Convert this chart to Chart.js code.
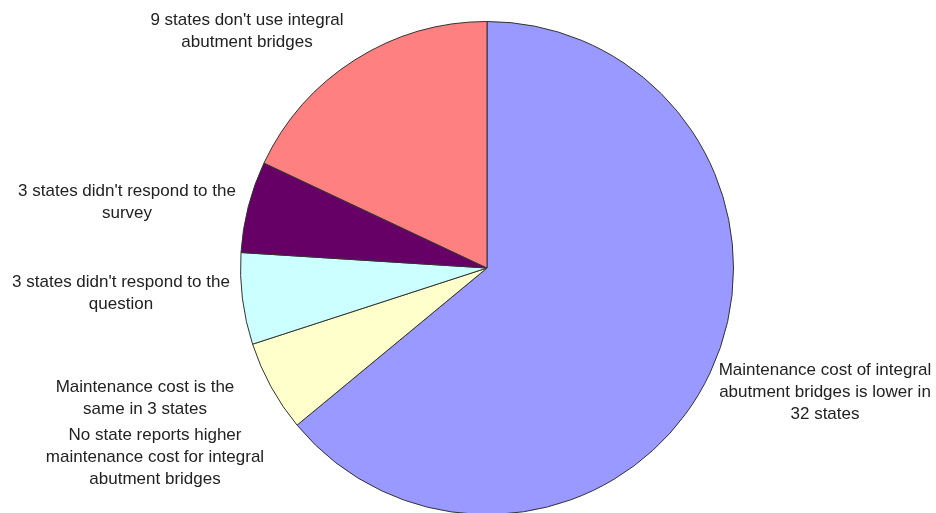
<!DOCTYPE html>
<html>
<head>
<meta charset="utf-8">
<script src="https://cdn.jsdelivr.net/npm/chart.js@4.4.1/dist/chart.umd.min.js"></script>
<style>
    html, body { margin: 0; padding: 0; background: #fff; overflow: hidden; }
    #wrap { position: relative; width: 936px; height: 530px; }
</style>
</head>
<body>
<div id="wrap"><canvas id="pieChart"></canvas></div>
<script>
// slices clockwise from 12 o'clock
const categories = [
    ["Maintenance cost of integral", "abutment bridges is lower in", "32 states"],
    ["No state reports higher", "maintenance cost for integral", "abutment bridges"],
    ["Maintenance cost is the", "same in 3 states"],
    ["3 states didn't respond to the", "question"],
    ["3 states didn't respond to the", "survey"],
    ["9 states don't use integral", "abutment bridges"]
];
const stateCounts = [32, 0, 3, 3, 3, 9];
const sliceColors = ["#9999ff", "#993366", "#ffffcc", "#ccffff", "#660066", "#ff8080"];

// where each label block sits, relative to the pie centre
const labelOffsets = [
    { dx: 338, dy: 124 },
    { dx: -332, dy: 189 },
    { dx: -342, dy: 130 },
    { dx: -366, dy: 25 },
    { dx: -360, dy: -66 },
    { dx: -240, dy: -237 }
];

const outsideLabels = {
    id: "outsideLabels",
    afterDatasetsDraw(chart) {
        const ctx = chart.ctx;
        const arcs = chart.getDatasetMeta(0).data;
        const lineHeight = 22;
        ctx.save();
        ctx.font = "17px 'Liberation Sans', Arial, sans-serif";
        ctx.fillStyle = "#222222";
        ctx.textAlign = "center";
        ctx.textBaseline = "middle";
        chart.data.labels.forEach((lines, i) => {
            const arc = arcs[i];
            const cx = arc.x + labelOffsets[i].dx;
            const cy = arc.y + labelOffsets[i].dy;
            const top = cy - (lines.length - 1) * lineHeight / 2;
            lines.forEach((line, j) => {
                ctx.fillText(line, cx, top + j * lineHeight);
            });
        });
        ctx.restore();
    }
};

document.addEventListener("DOMContentLoaded", () => {
    const ctx = document.getElementById("pieChart").getContext("2d");
    new Chart(ctx, {
        type: "pie",
        data: {
            labels: categories,
            datasets: [{
                data: stateCounts,
                backgroundColor: sliceColors,
                borderColor: "#333333",
                borderWidth: 1
            }]
        },
        options: {
            responsive: true,
            maintainAspectRatio: false,
            animation: false,
            layout: {
                padding: { left: 38, right: 0, top: 21, bottom: 15 }
            },
            plugins: {
                legend: { display: false },
                tooltip: { enabled: false }
            }
        },
        plugins: [outsideLabels]
    });
});
</script>
</body>
</html>
